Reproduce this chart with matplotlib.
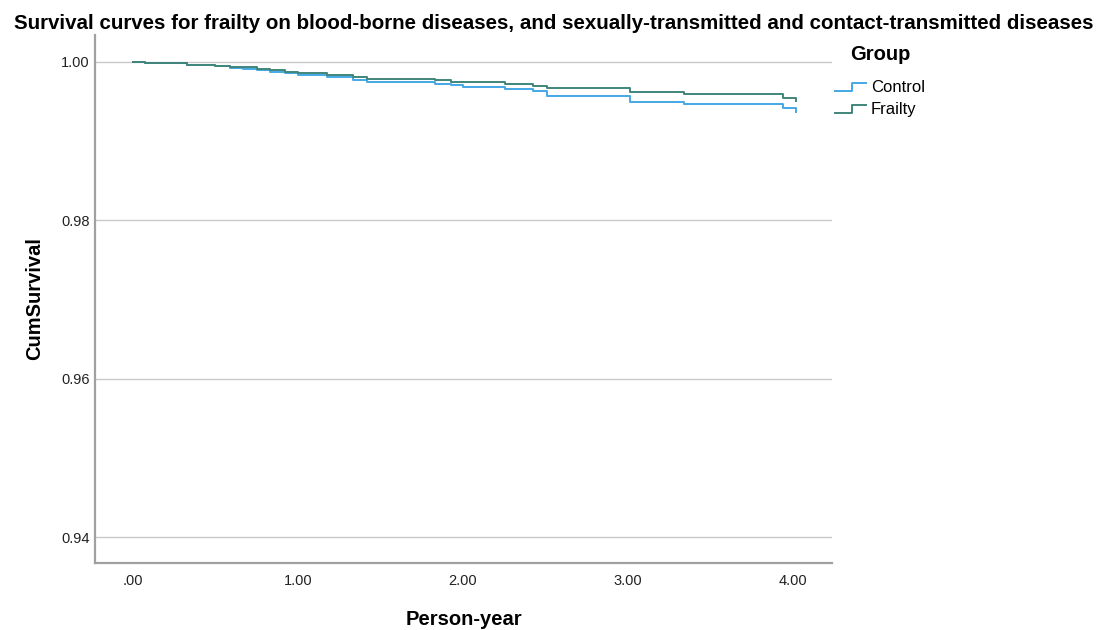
import numpy as np
import matplotlib.pyplot as plt
from matplotlib.legend_handler import HandlerBase
from matplotlib.lines import Line2D

plt.rcParams['font.family'] = ['Liberation Sans', 'DejaVu Sans']

# step points (time in person-years, cumulative survival)
control_t = [0.0, 0.073, 0.328, 0.498, 0.589, 0.668, 0.753, 0.832, 0.923, 1.0,
             1.178, 1.335, 1.42, 1.833, 1.93, 2.0, 2.258, 2.428, 2.513, 3.017,
             3.345, 3.94, 4.02]
control_s = [1.0, 0.99984, 0.99966, 0.9995, 0.99924, 0.99912, 0.99893, 0.99878,
             0.99855, 0.99836, 0.99807, 0.99777, 0.99751, 0.99726, 0.99706,
             0.99685, 0.99659, 0.99634, 0.99571, 0.99499, 0.99466, 0.99416, 0.99365]

frailty_t = [0.0, 0.073, 0.328, 0.498, 0.589, 0.753, 0.832, 0.923, 1.0,
             1.178, 1.335, 1.42, 1.833, 1.93, 2.0, 2.258, 2.428, 2.513, 3.017,
             3.345, 3.94, 4.02]
frailty_s = [1.0, 0.99984, 0.99966, 0.9995, 0.99937, 0.99905, 0.99893, 0.99874,
             0.99861, 0.99836, 0.99811, 0.99789, 0.99773, 0.99751, 0.99744,
             0.99722, 0.99701, 0.99668, 0.99615, 0.99592, 0.99542, 0.99512]

groups = ['Control', 'Frailty']
colors = ['#45a8e6', '#3f857b']

x_ticks = [0, 1, 2, 3, 4]
x_labels = ['.00', '1.00', '2.00', '3.00', '4.00']
y_ticks = [0.94, 0.96, 0.98, 1.00]


class StepHandler(HandlerBase):
    # legend icon drawn as a little step, like the SPSS survival legend
    def create_artists(self, legend, orig, xd, yd, w, h, fontsize, trans):
        xs = [xd, xd + w * 0.55, xd + w * 0.55, xd + w]
        ys = [yd + h * 0.1, yd + h * 0.1, yd + h * 0.8, yd + h * 0.8]
        ln = Line2D(xs, ys, color=orig.get_color(), lw=1.4, transform=trans)
        return [ln]


fig = plt.figure(figsize=(11.07, 6.3), dpi=100)
ax = fig.add_axes([0.0858, 0.1063, 0.6658, 0.8381])

ax.step(control_t, control_s, where='post', color=colors[0], lw=1.4)
ax.step(frailty_t, frailty_s, where='post', color=colors[1], lw=1.4)

ax.set_xlim(-0.23, 4.24)
ax.set_ylim(0.93672, 1.0034)
ax.set_xticks(x_ticks)
ax.set_xticklabels(x_labels)
ax.set_yticks(y_ticks)
ax.set_yticklabels(['%.2f' % v for v in y_ticks])
ax.tick_params(length=0, labelsize=10.5, colors='#222222')
ax.tick_params(axis='x', pad=8)
ax.tick_params(axis='y', pad=4)
ax.yaxis.grid(True, color='#c8c8c8', lw=1)
ax.set_axisbelow(True)
for s in ['top', 'right']:
    ax.spines[s].set_visible(False)
for s in ['left', 'bottom']:
    ax.spines[s].set_color('#a0a0a0')
    ax.spines[s].set_linewidth(1.6)

ax.set_xlabel('Person-year', fontsize=14.5, fontweight='bold', labelpad=16)
ax.set_ylabel('CumSurvival', fontsize=14.5, fontweight='bold', labelpad=12)
fig.suptitle('Survival curves for frailty on blood-borne diseases, and sexually-transmitted and contact-transmitted diseases',
             x=0.5, y=0.978, fontsize=14.8, fontweight='bold')

fig.text(850 / 1107, 1 - 55 / 630, 'Group', fontsize=14.5, fontweight='bold',
         va='center', ha='left')
handles = [Line2D([], [], color=c) for c in colors]
leg = fig.legend(handles, groups, loc='upper left',
                 bbox_to_anchor=(835 / 1107, 1 - 80 / 630), frameon=False,
                 fontsize=12, borderpad=0, borderaxespad=0,
                 handler_map={Line2D: StepHandler()}, handlelength=1.85,
                 handletextpad=0.3, labelspacing=0.42)

fig.savefig('out.png', dpi=100)
